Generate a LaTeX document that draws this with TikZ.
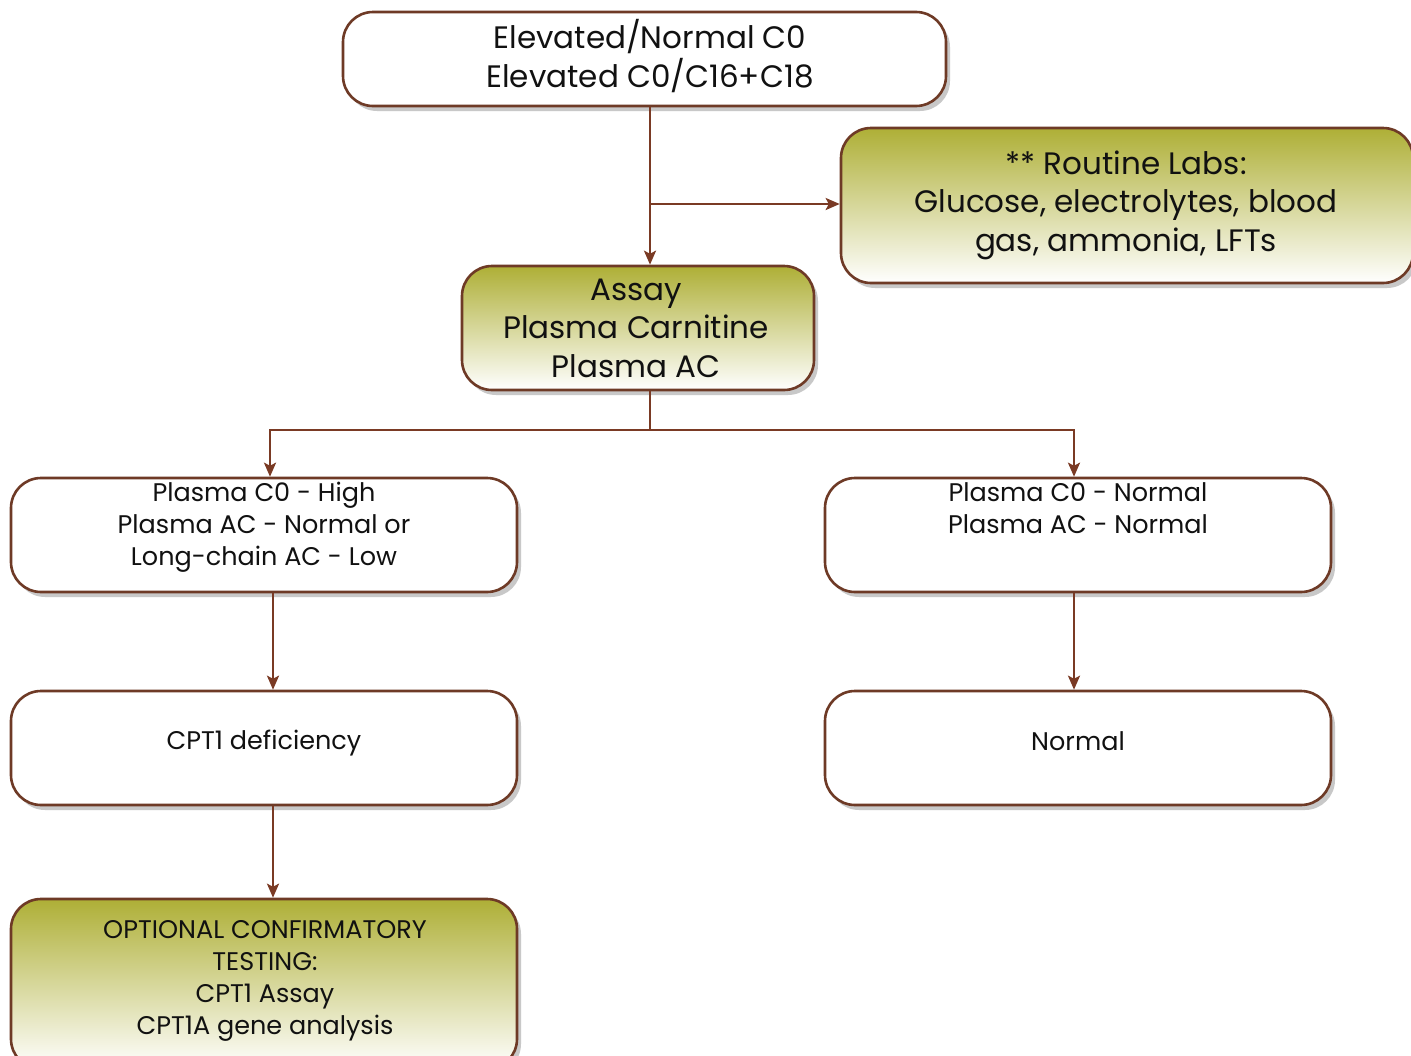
\documentclass[tikz,border=0pt]{standalone}
\usepackage{fontspec}
\setmainfont{Poppins}
\usetikzlibrary{shadows,arrows.meta}
\definecolor{brn}{HTML}{6E3A26}
\definecolor{lnk}{HTML}{7A3A24}
\definecolor{oliv}{HTML}{AEAF36}
\definecolor{txtc}{HTML}{111111}
\begin{document}
\begin{tikzpicture}[x=1pt,y=-1pt,
  box/.style={draw=brn, line width=2.6pt, rounded corners=30pt, fill=white,
    inner sep=0pt,
    drop shadow={shadow xshift=4pt, shadow yshift=-5pt, opacity=0.3, fill=black!70}},
  gbox/.style={box, top color=oliv, bottom color=white},
  big/.style={align=center, text=txtc, inner sep=0pt, font=\fontsize{31}{38.5}\selectfont},
  small/.style={align=center, text=txtc, inner sep=0pt, font=\fontsize{25.5}{32}\selectfont},
  conn/.style={draw=lnk, line width=2.2pt},
  arr/.style={conn, -{Stealth[length=14pt, width=12pt, inset=3pt]}}
]
\useasboundingbox (0,0) rectangle (1411,1055);
\clip (0,0) rectangle (1411,1055);
\fill[white] (0,0) rectangle (1411,1055);

% boxes
\node[box, minimum width=603pt, minimum height=94pt] (top) at (644.5,59) {};
\node[gbox, minimum width=572pt, minimum height=155pt] (labs) at (1127,205.5) {};
\node[gbox, minimum width=352pt, minimum height=124pt] (assay) at (638,328) {};
\node[box, minimum width=506pt, minimum height=114pt] (lmid) at (264,535) {};
\node[box, minimum width=506pt, minimum height=114pt] (rmid) at (1078,535) {};
\node[box, minimum width=506pt, minimum height=114pt] (cpt) at (264,748) {};
\node[box, minimum width=506pt, minimum height=114pt] (norm) at (1078,748) {};
\node[gbox, minimum width=506pt, minimum height=170pt] (opt) at (264,984) {};

% texts
\node[big] (ttop) at (650,56) {Elevated/Normal C0\\Elevated C0/C16+C18};
\node[big] (tlabs) at (1126,205) {** Routine Labs:\\Glucose, electrolytes, blood\\gas, ammonia, LFTs};
\node[big] (tassay) at (636,328) {Assay\\Plasma Carnitine\\Plasma AC};
\node[small] (tlmid) at (264,527) {Plasma C0 - High\\Plasma AC - Normal or\\Long-chain AC - Low};
\node[small] (trmid) at (1078,508) {Plasma C0 - Normal\\Plasma AC - Normal};
\node[small] (tcpt) at (264,743) {CPT1 deficiency};
\node[small] (tnorm) at (1078,741) {Normal};
\node[small] (topt) at (265,981) {OPTIONAL CONFIRMATORY\\TESTING:\\CPT1 Assay\\CPT1A gene analysis};

% junctions
\coordinate (j1) at (650,204);
\coordinate (j2) at (650,430);
\coordinate (jl) at (270,430);
\coordinate (jr) at (1074,430);
\coordinate (cl) at (273,0);
\coordinate (cr) at (1074,0);

% connectors
\draw[arr] (top.south -| j1) -- (assay.north -| j1);
\draw[arr] (j1) -- (labs.west |- j1);
\draw[conn] (assay.south -| j2) -- (j2);
\draw[arr] (j2) -- (jl) -- (lmid.north -| jl);
\draw[arr] (j2) -- (jr) -- (rmid.north -| jr);
\draw[arr] (lmid.south -| cl) -- (cpt.north -| cl);
\draw[arr] (rmid.south -| cr) -- (norm.north -| cr);
\draw[arr] (cpt.south -| cl) -- (opt.north -| cl);
\end{tikzpicture}
\end{document}
